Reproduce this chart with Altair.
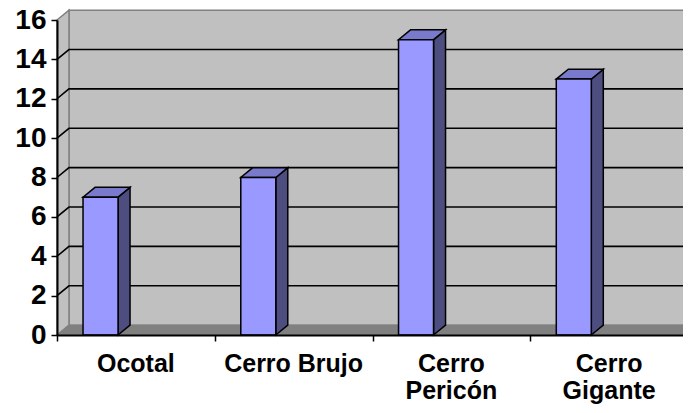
import altair as alt
import pandas as pd

# ---- data ----
categories = ["Ocotal", "Cerro Brujo", "Cerro Pericón", "Cerro Gigante"]
values = [7, 8, 15, 13]
y_ticks = [0, 2, 4, 6, 8, 10, 12, 14, 16]

# ---- styling constants (3-D look) ----
Y_MAX = 16
N = len(categories)
DX = 0.076   # depth offset in category units
DY = 0.5     # depth offset in value units
BAR_L = 0.165
BAR_R = 0.387
PLOT_W = 626
PLOT_H = 315
X_RANGE = 631
FONT = "Liberation Sans"

WALL = "#C0C0C0"
WALL_EDGE = "#808080"
FLOOR = "#808080"
FRONT = "#9999FF"
SIDE = "#4D4D80"
TOP = "#7A7ACC"

xs = alt.Scale(domain=[0, N], range=[0, X_RANGE], nice=False, zero=False)
ys = alt.Scale(domain=[0, Y_MAX], nice=False)

xaxis = alt.Axis(values=list(range(N + 1)), labels=False, grid=False, title=None,
                 domainColor="black", domainWidth=2, tickColor="black", tickWidth=1.5,
                 tickSize=6, zindex=1)
yaxis = alt.Axis(values=y_ticks, grid=False, title=None, domainColor="black",
                 domainWidth=2, tickColor="black", tickWidth=1.5, tickSize=6,
                 labelFont=FONT, labelFontSize=28, labelFontWeight="bold",
                 labelColor="black", labelPadding=5, zindex=1)


def X(f):
    return alt.X(f, type="quantitative", scale=xs, axis=xaxis)


def Y(f):
    return alt.Y(f, type="quantitative", scale=ys, axis=yaxis)


# ---- derived tables ----
side_rows, top_rows = [], []
for i, (c, v) in enumerate(zip(categories, values)):
    xl, xr = i + BAR_L, i + BAR_R
    side_rows.append({"cat": c, "x": xr, "y": v, "y2": 0.0})
    side_rows.append({"cat": c, "x": xr + DX, "y": v + DY, "y2": DY})
    top_rows.append({"cat": c, "y": v, "x": xl, "x2": xr})
    top_rows.append({"cat": c, "y": v + DY, "x": xl + DX, "x2": xr + DX})
side = pd.DataFrame(side_rows)
top = pd.DataFrame(top_rows)

bars = pd.DataFrame({"cat": categories, "v": values,
                     "xl": [i + BAR_L for i in range(N)],
                     "xr": [i + BAR_R for i in range(N)],
                     "zero": [0.0] * N})

back = pd.DataFrame({"x": [DX], "x2": [N + DX], "y": [DY], "y2": [Y_MAX + DY]})
left = pd.DataFrame({"x": [0.0, DX], "y": [0.0, DY], "y2": [float(Y_MAX), Y_MAX + DY]})
floor = pd.DataFrame({"y": [0.0, DY], "x": [0.0, DX], "x2": [float(N), N + DX]})

grid_rows = []
for t in y_ticks[1:-1]:
    grid_rows += [{"t": t, "k": 0, "x": 0.0, "y": t},
                  {"t": t, "k": 1, "x": DX, "y": t + DY},
                  {"t": t, "k": 2, "x": N + DX, "y": t + DY}]
grid = pd.DataFrame(grid_rows)

labels = pd.DataFrame({"cat": categories, "c": [i + 0.5 for i in range(N)]})

# ---- layers ----
l_back = alt.Chart(back).mark_rect(fill=WALL, stroke=WALL_EDGE, strokeWidth=1.5).encode(
    x=X("x"), x2="x2", y=Y("y"), y2="y2")
l_left = alt.Chart(left).mark_area(fill=WALL, stroke=WALL_EDGE, strokeWidth=1.5,
                                   orient="vertical").encode(
    x=X("x"), y=Y("y"), y2="y2")
l_floor = alt.Chart(floor).mark_area(fill=FLOOR, stroke=WALL_EDGE, strokeWidth=1,
                                     orient="horizontal").encode(
    y=Y("y"), x=X("x"), x2="x2")
l_grid = alt.Chart(grid).mark_line(color="black", strokeWidth=1.6).encode(
    x=X("x"), y=Y("y"), detail="t:N", order="k:Q")
l_side = alt.Chart(side).mark_area(fill=SIDE, stroke="black", strokeWidth=1.5,
                                   orient="vertical").encode(
    x=X("x"), y=Y("y"), y2="y2", detail="cat:N")
l_top = alt.Chart(top).mark_area(fill=TOP, stroke="black", strokeWidth=1.5,
                                 orient="horizontal").encode(
    y=Y("y"), x=X("x"), x2="x2", detail="cat:N")
l_front = alt.Chart(bars).mark_rect(fill=FRONT, stroke="black", strokeWidth=1.5).encode(
    x=X("xl"), x2="xr", y=Y("v"), y2="zero")
l_text = alt.Chart(labels).transform_calculate(
    lab="length(datum.cat) > 12 ? split(datum.cat, ' ') : datum.cat"
).mark_text(font=FONT, fontSize=25, fontWeight="bold", color="black",
            baseline="top", align="center", lineHeight=27).encode(
    x=X("c"), y=alt.value(PLOT_H + 17), text="lab:N")

chart = alt.layer(l_back, l_left, l_floor, l_grid, l_side, l_top, l_front, l_text).properties(
    width=PLOT_W, height=PLOT_H,
    padding={"left": 49, "top": 12, "right": 0, "bottom": 70},
    autosize="none",
).configure_view(stroke=None)

chart.save("out.html", embed_options={"renderer": "svg", "actions": False})
